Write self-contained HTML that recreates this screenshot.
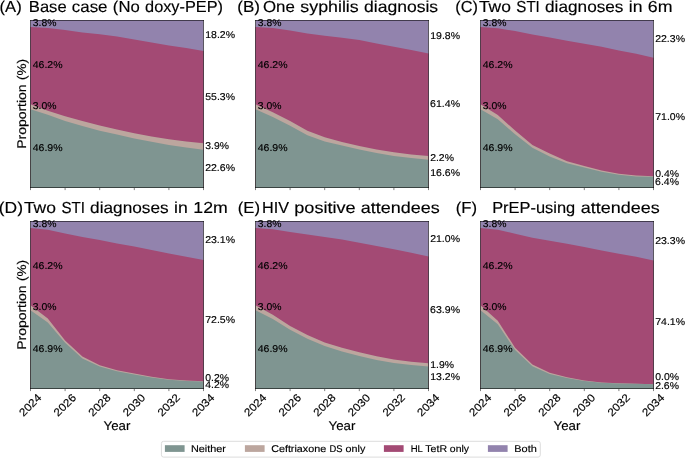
<!DOCTYPE html><html><head><meta charset="utf-8"><style>html,body{margin:0;padding:0;background:#fff;overflow:hidden}svg{display:block;filter:blur(0.3px)}</style></head><body><svg width="685" height="458" viewBox="0 0 685 458" font-family="Liberation Sans, sans-serif" text-rendering="geometricPrecision">
<rect width="685" height="458" fill="#fff"/>
<rect fill="#9283ad" x="30.50" y="20.00" width="173.00" height="167.90"/>
<polygon fill="#a34a74" points="30.50,27.01 47.80,28.00 65.10,30.00 82.40,32.40 99.70,34.35 117.00,36.40 134.30,39.40 151.60,42.50 168.90,45.50 186.20,48.10 203.50,50.89 203.50,187.90 30.50,187.90"/>
<polygon fill="#bca69e" points="30.50,104.17 47.80,110.70 65.10,116.30 82.40,120.90 99.70,125.60 117.00,129.40 134.30,133.30 151.60,136.50 168.90,139.30 186.20,141.50 203.50,143.25 203.50,187.90 30.50,187.90"/>
<polygon fill="#7f9591" points="30.50,109.18 47.80,114.80 65.10,121.00 82.40,126.10 99.70,130.80 117.00,134.60 134.30,138.40 151.60,141.70 168.90,144.90 186.20,147.40 203.50,149.76 203.50,187.90 30.50,187.90"/>
<rect fill="#9283ad" x="255.50" y="20.00" width="173.00" height="167.90"/>
<polygon fill="#a34a74" points="255.50,27.01 272.80,27.90 290.10,30.50 307.40,33.50 324.70,35.70 342.00,37.80 359.30,40.10 376.60,43.40 393.90,46.70 411.20,50.00 428.50,53.57 428.50,187.90 255.50,187.90"/>
<polygon fill="#bca69e" points="255.50,104.17 272.80,112.20 290.10,120.90 307.40,130.80 324.70,137.30 342.00,141.90 359.30,146.00 376.60,149.50 393.90,152.30 411.20,154.40 428.50,156.10 428.50,187.90 255.50,187.90"/>
<polygon fill="#7f9591" points="255.50,109.18 272.80,116.90 290.10,125.70 307.40,135.20 324.70,141.40 342.00,145.50 359.30,149.50 376.60,153.00 393.90,155.90 411.20,158.00 428.50,159.78 428.50,187.90 255.50,187.90"/>
<rect fill="#9283ad" x="480.50" y="20.00" width="173.00" height="167.90"/>
<polygon fill="#a34a74" points="480.50,27.01 497.80,28.20 515.10,31.10 532.40,34.40 549.70,37.40 567.00,40.70 584.30,43.80 601.60,46.80 618.90,50.40 636.20,53.70 653.50,57.74 653.50,187.90 480.50,187.90"/>
<polygon fill="#bca69e" points="480.50,104.17 497.80,115.10 515.10,130.60 532.40,145.00 549.70,153.40 567.00,161.30 584.30,166.00 601.60,170.50 618.90,173.80 636.20,175.60 653.50,176.14 653.50,187.90 480.50,187.90"/>
<polygon fill="#7f9591" points="480.50,109.18 497.80,119.20 515.10,134.20 532.40,147.80 549.70,156.40 567.00,163.30 584.30,167.60 601.60,171.80 618.90,174.80 636.20,176.40 653.50,176.81 653.50,187.90 480.50,187.90"/>
<rect fill="#9283ad" x="30.50" y="221.00" width="173.00" height="167.90"/>
<polygon fill="#a34a74" points="30.50,228.01 47.80,229.80 65.10,233.50 82.40,237.10 99.70,240.00 117.00,243.40 134.30,246.60 151.60,250.10 168.90,253.40 186.20,256.70 203.50,260.08 203.50,388.90 30.50,388.90"/>
<polygon fill="#bca69e" points="30.50,305.17 47.80,318.50 65.10,340.60 82.40,356.60 99.70,365.20 117.00,370.20 134.30,373.60 151.60,376.80 168.90,379.20 186.20,380.60 203.50,381.15 203.50,388.90 30.50,388.90"/>
<polygon fill="#7f9591" points="30.50,310.18 47.80,322.50 65.10,342.80 82.40,358.40 99.70,366.50 117.00,371.20 134.30,374.40 151.60,377.40 168.90,379.70 186.20,381.00 203.50,381.49 203.50,388.90 30.50,388.90"/>
<rect fill="#9283ad" x="255.50" y="221.00" width="173.00" height="167.90"/>
<polygon fill="#a34a74" points="255.50,228.01 272.80,229.20 290.10,231.90 307.40,234.50 324.70,237.10 342.00,239.60 359.30,242.70 376.60,246.10 393.90,249.30 411.20,252.70 428.50,256.57 428.50,388.90 255.50,388.90"/>
<polygon fill="#bca69e" points="255.50,305.17 272.80,314.80 290.10,326.10 307.40,335.00 324.70,342.50 342.00,347.70 359.30,352.30 376.60,356.30 393.90,359.50 411.20,361.80 428.50,363.28 428.50,388.90 255.50,388.90"/>
<polygon fill="#7f9591" points="255.50,310.18 272.80,319.00 290.10,329.80 307.40,338.80 324.70,346.00 342.00,351.60 359.30,356.00 376.60,360.00 393.90,362.90 411.20,364.90 428.50,366.46 428.50,388.90 255.50,388.90"/>
<rect fill="#9283ad" x="480.50" y="221.00" width="173.00" height="167.90"/>
<polygon fill="#a34a74" points="480.50,228.01 497.80,229.80 515.10,233.70 532.40,237.70 549.70,240.70 567.00,243.80 584.30,247.10 601.60,250.50 618.90,253.70 636.20,256.70 653.50,260.41 653.50,388.90 480.50,388.90"/>
<polygon fill="#bca69e" points="480.50,305.17 497.80,320.70 515.10,347.80 532.40,364.40 549.70,372.80 567.00,377.20 584.30,380.50 601.60,382.40 618.90,383.20 636.20,383.70 653.50,384.16 653.50,388.90 480.50,388.90"/>
<polygon fill="#7f9591" points="480.50,310.18 497.80,324.20 515.10,350.10 532.40,366.20 549.70,374.00 567.00,378.00 584.30,381.00 601.60,382.70 618.90,383.40 636.20,383.80 653.50,384.16 653.50,388.90 480.50,388.90"/>
<path d="M30.50,20.00V188.00M203.50,20.00V188.00M30.00,20.50H204.00M30.00,187.50H204.00" stroke="#000" stroke-opacity="0.55" stroke-width="1" fill="none"/>
<line x1="30.50" y1="188.00" x2="30.50" y2="190.10" stroke="#000" stroke-opacity="0.5" stroke-width="1"/>
<line x1="65.10" y1="188.00" x2="65.10" y2="190.10" stroke="#000" stroke-opacity="0.5" stroke-width="1"/>
<line x1="99.70" y1="188.00" x2="99.70" y2="190.10" stroke="#000" stroke-opacity="0.5" stroke-width="1"/>
<line x1="134.30" y1="188.00" x2="134.30" y2="190.10" stroke="#000" stroke-opacity="0.5" stroke-width="1"/>
<line x1="168.90" y1="188.00" x2="168.90" y2="190.10" stroke="#000" stroke-opacity="0.5" stroke-width="1"/>
<line x1="203.50" y1="188.00" x2="203.50" y2="190.10" stroke="#000" stroke-opacity="0.5" stroke-width="1"/>
<path d="M255.50,20.00V188.00M428.50,20.00V188.00M255.00,20.50H429.00M255.00,187.50H429.00" stroke="#000" stroke-opacity="0.55" stroke-width="1" fill="none"/>
<line x1="255.50" y1="188.00" x2="255.50" y2="190.10" stroke="#000" stroke-opacity="0.5" stroke-width="1"/>
<line x1="290.10" y1="188.00" x2="290.10" y2="190.10" stroke="#000" stroke-opacity="0.5" stroke-width="1"/>
<line x1="324.70" y1="188.00" x2="324.70" y2="190.10" stroke="#000" stroke-opacity="0.5" stroke-width="1"/>
<line x1="359.30" y1="188.00" x2="359.30" y2="190.10" stroke="#000" stroke-opacity="0.5" stroke-width="1"/>
<line x1="393.90" y1="188.00" x2="393.90" y2="190.10" stroke="#000" stroke-opacity="0.5" stroke-width="1"/>
<line x1="428.50" y1="188.00" x2="428.50" y2="190.10" stroke="#000" stroke-opacity="0.5" stroke-width="1"/>
<path d="M480.50,20.00V188.00M653.50,20.00V188.00M480.00,20.50H654.00M480.00,187.50H654.00" stroke="#000" stroke-opacity="0.55" stroke-width="1" fill="none"/>
<line x1="480.50" y1="188.00" x2="480.50" y2="190.10" stroke="#000" stroke-opacity="0.5" stroke-width="1"/>
<line x1="515.10" y1="188.00" x2="515.10" y2="190.10" stroke="#000" stroke-opacity="0.5" stroke-width="1"/>
<line x1="549.70" y1="188.00" x2="549.70" y2="190.10" stroke="#000" stroke-opacity="0.5" stroke-width="1"/>
<line x1="584.30" y1="188.00" x2="584.30" y2="190.10" stroke="#000" stroke-opacity="0.5" stroke-width="1"/>
<line x1="618.90" y1="188.00" x2="618.90" y2="190.10" stroke="#000" stroke-opacity="0.5" stroke-width="1"/>
<line x1="653.50" y1="188.00" x2="653.50" y2="190.10" stroke="#000" stroke-opacity="0.5" stroke-width="1"/>
<path d="M30.50,221.00V389.00M203.50,221.00V389.00M30.00,221.50H204.00M30.00,388.50H204.00" stroke="#000" stroke-opacity="0.55" stroke-width="1" fill="none"/>
<line x1="30.50" y1="389.00" x2="30.50" y2="391.10" stroke="#000" stroke-opacity="0.5" stroke-width="1"/>
<line x1="65.10" y1="389.00" x2="65.10" y2="391.10" stroke="#000" stroke-opacity="0.5" stroke-width="1"/>
<line x1="99.70" y1="389.00" x2="99.70" y2="391.10" stroke="#000" stroke-opacity="0.5" stroke-width="1"/>
<line x1="134.30" y1="389.00" x2="134.30" y2="391.10" stroke="#000" stroke-opacity="0.5" stroke-width="1"/>
<line x1="168.90" y1="389.00" x2="168.90" y2="391.10" stroke="#000" stroke-opacity="0.5" stroke-width="1"/>
<line x1="203.50" y1="389.00" x2="203.50" y2="391.10" stroke="#000" stroke-opacity="0.5" stroke-width="1"/>
<path d="M255.50,221.00V389.00M428.50,221.00V389.00M255.00,221.50H429.00M255.00,388.50H429.00" stroke="#000" stroke-opacity="0.55" stroke-width="1" fill="none"/>
<line x1="255.50" y1="389.00" x2="255.50" y2="391.10" stroke="#000" stroke-opacity="0.5" stroke-width="1"/>
<line x1="290.10" y1="389.00" x2="290.10" y2="391.10" stroke="#000" stroke-opacity="0.5" stroke-width="1"/>
<line x1="324.70" y1="389.00" x2="324.70" y2="391.10" stroke="#000" stroke-opacity="0.5" stroke-width="1"/>
<line x1="359.30" y1="389.00" x2="359.30" y2="391.10" stroke="#000" stroke-opacity="0.5" stroke-width="1"/>
<line x1="393.90" y1="389.00" x2="393.90" y2="391.10" stroke="#000" stroke-opacity="0.5" stroke-width="1"/>
<line x1="428.50" y1="389.00" x2="428.50" y2="391.10" stroke="#000" stroke-opacity="0.5" stroke-width="1"/>
<path d="M480.50,221.00V389.00M653.50,221.00V389.00M480.00,221.50H654.00M480.00,388.50H654.00" stroke="#000" stroke-opacity="0.55" stroke-width="1" fill="none"/>
<line x1="480.50" y1="389.00" x2="480.50" y2="391.10" stroke="#000" stroke-opacity="0.5" stroke-width="1"/>
<line x1="515.10" y1="389.00" x2="515.10" y2="391.10" stroke="#000" stroke-opacity="0.5" stroke-width="1"/>
<line x1="549.70" y1="389.00" x2="549.70" y2="391.10" stroke="#000" stroke-opacity="0.5" stroke-width="1"/>
<line x1="584.30" y1="389.00" x2="584.30" y2="391.10" stroke="#000" stroke-opacity="0.5" stroke-width="1"/>
<line x1="618.90" y1="389.00" x2="618.90" y2="391.10" stroke="#000" stroke-opacity="0.5" stroke-width="1"/>
<line x1="653.50" y1="389.00" x2="653.50" y2="391.10" stroke="#000" stroke-opacity="0.5" stroke-width="1"/>
<g fill="#000" stroke="#000" stroke-width="0.15">
<text x="32.83" y="25.81" font-size="9.9" textLength="23.65" lengthAdjust="spacingAndGlyphs">3.8%</text>
<text x="32.72" y="67.71" font-size="9.9" textLength="29.81" lengthAdjust="spacingAndGlyphs">46.2%</text>
<text x="32.83" y="109.11" font-size="9.9" textLength="23.65" lengthAdjust="spacingAndGlyphs">3.0%</text>
<text x="32.72" y="150.91" font-size="9.9" textLength="29.81" lengthAdjust="spacingAndGlyphs">46.9%</text>
<text x="205.24" y="37.81" font-size="9.9" textLength="29.79" lengthAdjust="spacingAndGlyphs">18.2%</text>
<text x="205.31" y="99.81" font-size="9.9" textLength="29.72" lengthAdjust="spacingAndGlyphs">55.3%</text>
<text x="205.33" y="149.21" font-size="9.9" textLength="23.65" lengthAdjust="spacingAndGlyphs">3.9%</text>
<text x="205.17" y="171.41" font-size="9.9" textLength="29.86" lengthAdjust="spacingAndGlyphs">22.6%</text>
<text x="-0.43" y="11.90" font-size="15.9" textLength="22.16" lengthAdjust="spacingAndGlyphs">(A)</text>
<text x="28.84" y="11.90" font-size="15.9" textLength="37.79" lengthAdjust="spacingAndGlyphs">Base</text><text x="71.83" y="11.90" font-size="15.9" textLength="35.70" lengthAdjust="spacingAndGlyphs">case</text><text x="112.89" y="11.90" font-size="15.9" textLength="26.89" lengthAdjust="spacingAndGlyphs">(No</text><text x="145.08" y="11.90" font-size="15.9" textLength="77.93" lengthAdjust="spacingAndGlyphs">doxy-PEP)</text>
<g transform="translate(25.9,103.75) rotate(-90) translate(-43.95,0)"><text x="-1.15" y="0.00" font-size="12.6" textLength="64.48" lengthAdjust="spacingAndGlyphs">Proportion</text><text x="67.66" y="0.00" font-size="12.6" textLength="21.08" lengthAdjust="spacingAndGlyphs">(%)</text></g>
<text x="257.83" y="25.81" font-size="9.9" textLength="23.65" lengthAdjust="spacingAndGlyphs">3.8%</text>
<text x="257.72" y="67.71" font-size="9.9" textLength="29.81" lengthAdjust="spacingAndGlyphs">46.2%</text>
<text x="257.83" y="109.11" font-size="9.9" textLength="23.65" lengthAdjust="spacingAndGlyphs">3.0%</text>
<text x="257.72" y="150.91" font-size="9.9" textLength="29.81" lengthAdjust="spacingAndGlyphs">46.9%</text>
<text x="430.24" y="39.11" font-size="9.9" textLength="29.79" lengthAdjust="spacingAndGlyphs">19.8%</text>
<text x="430.13" y="107.21" font-size="9.9" textLength="29.90" lengthAdjust="spacingAndGlyphs">61.4%</text>
<text x="430.17" y="160.71" font-size="9.9" textLength="23.81" lengthAdjust="spacingAndGlyphs">2.2%</text>
<text x="430.24" y="176.11" font-size="9.9" textLength="29.79" lengthAdjust="spacingAndGlyphs">16.6%</text>
<text x="237.34" y="11.90" font-size="15.9" textLength="22.71" lengthAdjust="spacingAndGlyphs">(B)</text>
<text x="263.00" y="11.90" font-size="15.9" textLength="31.90" lengthAdjust="spacingAndGlyphs">One</text><text x="300.35" y="11.90" font-size="15.9" textLength="58.36" lengthAdjust="spacingAndGlyphs">syphilis</text><text x="363.97" y="11.90" font-size="15.9" textLength="74.16" lengthAdjust="spacingAndGlyphs">diagnosis</text>
<text x="482.83" y="25.81" font-size="9.9" textLength="23.65" lengthAdjust="spacingAndGlyphs">3.8%</text>
<text x="482.72" y="67.71" font-size="9.9" textLength="29.81" lengthAdjust="spacingAndGlyphs">46.2%</text>
<text x="482.83" y="109.11" font-size="9.9" textLength="23.65" lengthAdjust="spacingAndGlyphs">3.0%</text>
<text x="482.72" y="150.91" font-size="9.9" textLength="29.81" lengthAdjust="spacingAndGlyphs">46.9%</text>
<text x="655.17" y="41.83" font-size="9.9" textLength="29.86" lengthAdjust="spacingAndGlyphs">22.3%</text>
<text x="655.24" y="119.65" font-size="9.9" textLength="29.79" lengthAdjust="spacingAndGlyphs">71.0%</text>
<text x="655.22" y="177.41" font-size="9.9" textLength="23.76" lengthAdjust="spacingAndGlyphs">0.4%</text>
<text x="655.13" y="184.61" font-size="9.9" textLength="23.85" lengthAdjust="spacingAndGlyphs">6.4%</text>
<text x="455.29" y="11.90" font-size="15.9" textLength="22.62" lengthAdjust="spacingAndGlyphs">(C)</text>
<text x="478.92" y="11.90" font-size="15.9" textLength="32.01" lengthAdjust="spacingAndGlyphs">Two</text><text x="516.35" y="11.90" font-size="15.9" textLength="23.48" lengthAdjust="spacingAndGlyphs">STI</text><text x="545.04" y="11.90" font-size="15.9" textLength="78.45" lengthAdjust="spacingAndGlyphs">diagnoses</text><text x="628.85" y="11.90" font-size="15.9" textLength="13.71" lengthAdjust="spacingAndGlyphs">in</text><text x="647.87" y="11.90" font-size="15.9" textLength="24.71" lengthAdjust="spacingAndGlyphs">6m</text>
<text x="32.83" y="226.81" font-size="9.9" textLength="23.65" lengthAdjust="spacingAndGlyphs">3.8%</text>
<text x="32.72" y="268.71" font-size="9.9" textLength="29.81" lengthAdjust="spacingAndGlyphs">46.2%</text>
<text x="32.83" y="310.11" font-size="9.9" textLength="23.65" lengthAdjust="spacingAndGlyphs">3.0%</text>
<text x="32.72" y="351.91" font-size="9.9" textLength="29.81" lengthAdjust="spacingAndGlyphs">46.9%</text>
<text x="205.17" y="243.49" font-size="9.9" textLength="29.86" lengthAdjust="spacingAndGlyphs">23.1%</text>
<text x="205.24" y="323.32" font-size="9.9" textLength="29.79" lengthAdjust="spacingAndGlyphs">72.5%</text>
<text x="205.22" y="380.71" font-size="9.9" textLength="23.76" lengthAdjust="spacingAndGlyphs">0.2%</text>
<text x="205.22" y="387.66" font-size="9.9" textLength="23.76" lengthAdjust="spacingAndGlyphs">4.2%</text>
<text x="-1.28" y="213.30" font-size="15.9" textLength="24.27" lengthAdjust="spacingAndGlyphs">(D)</text>
<text x="23.92" y="213.30" font-size="15.9" textLength="32.06" lengthAdjust="spacingAndGlyphs">Two</text><text x="61.41" y="213.30" font-size="15.9" textLength="23.51" lengthAdjust="spacingAndGlyphs">STI</text><text x="90.14" y="213.30" font-size="15.9" textLength="78.57" lengthAdjust="spacingAndGlyphs">diagnoses</text><text x="174.08" y="213.30" font-size="15.9" textLength="13.73" lengthAdjust="spacingAndGlyphs">in</text><text x="193.30" y="213.30" font-size="15.9" textLength="34.47" lengthAdjust="spacingAndGlyphs">12m</text>
<g transform="translate(25.9,304.75) rotate(-90) translate(-43.95,0)"><text x="-1.15" y="0.00" font-size="12.6" textLength="64.48" lengthAdjust="spacingAndGlyphs">Proportion</text><text x="67.66" y="0.00" font-size="12.6" textLength="21.08" lengthAdjust="spacingAndGlyphs">(%)</text></g>
<text x="103.62" y="429.70" font-size="12.8" textLength="26.79" lengthAdjust="spacingAndGlyphs">Year</text>
<g transform="translate(30.20,404.9) rotate(-45) translate(-12.7,3.85)"><text x="-0.60" y="0.00" font-size="10.9" textLength="26.34" lengthAdjust="spacingAndGlyphs">2024</text></g>
<g transform="translate(64.80,404.9) rotate(-45) translate(-12.7,3.85)"><text x="-0.60" y="0.00" font-size="10.9" textLength="26.52" lengthAdjust="spacingAndGlyphs">2026</text></g>
<g transform="translate(99.40,404.9) rotate(-45) translate(-12.7,3.85)"><text x="-0.60" y="0.00" font-size="10.9" textLength="26.52" lengthAdjust="spacingAndGlyphs">2028</text></g>
<g transform="translate(134.00,404.9) rotate(-45) translate(-12.7,3.85)"><text x="-0.60" y="0.00" font-size="10.9" textLength="26.46" lengthAdjust="spacingAndGlyphs">2030</text></g>
<g transform="translate(168.60,404.9) rotate(-45) translate(-12.7,3.85)"><text x="-0.60" y="0.00" font-size="10.9" textLength="26.60" lengthAdjust="spacingAndGlyphs">2032</text></g>
<g transform="translate(203.20,404.9) rotate(-45) translate(-12.7,3.85)"><text x="-0.60" y="0.00" font-size="10.9" textLength="26.34" lengthAdjust="spacingAndGlyphs">2034</text></g>
<text x="257.83" y="226.81" font-size="9.9" textLength="23.65" lengthAdjust="spacingAndGlyphs">3.8%</text>
<text x="257.72" y="268.71" font-size="9.9" textLength="29.81" lengthAdjust="spacingAndGlyphs">46.2%</text>
<text x="257.83" y="310.11" font-size="9.9" textLength="23.65" lengthAdjust="spacingAndGlyphs">3.0%</text>
<text x="257.72" y="351.91" font-size="9.9" textLength="29.81" lengthAdjust="spacingAndGlyphs">46.9%</text>
<text x="430.17" y="241.74" font-size="9.9" textLength="29.86" lengthAdjust="spacingAndGlyphs">21.0%</text>
<text x="430.13" y="312.63" font-size="9.9" textLength="29.90" lengthAdjust="spacingAndGlyphs">63.9%</text>
<text x="430.25" y="367.71" font-size="9.9" textLength="23.73" lengthAdjust="spacingAndGlyphs">1.9%</text>
<text x="430.24" y="380.31" font-size="9.9" textLength="29.79" lengthAdjust="spacingAndGlyphs">13.2%</text>
<text x="237.76" y="213.30" font-size="15.9" textLength="22.27" lengthAdjust="spacingAndGlyphs">(E)</text>
<text x="261.97" y="213.30" font-size="15.9" textLength="26.96" lengthAdjust="spacingAndGlyphs">HIV</text><text x="294.25" y="213.30" font-size="15.9" textLength="61.41" lengthAdjust="spacingAndGlyphs">positive</text><text x="360.88" y="213.30" font-size="15.9" textLength="78.87" lengthAdjust="spacingAndGlyphs">attendees</text>
<text x="328.62" y="429.70" font-size="12.8" textLength="26.79" lengthAdjust="spacingAndGlyphs">Year</text>
<g transform="translate(255.20,404.9) rotate(-45) translate(-12.7,3.85)"><text x="-0.60" y="0.00" font-size="10.9" textLength="26.34" lengthAdjust="spacingAndGlyphs">2024</text></g>
<g transform="translate(289.80,404.9) rotate(-45) translate(-12.7,3.85)"><text x="-0.60" y="0.00" font-size="10.9" textLength="26.52" lengthAdjust="spacingAndGlyphs">2026</text></g>
<g transform="translate(324.40,404.9) rotate(-45) translate(-12.7,3.85)"><text x="-0.60" y="0.00" font-size="10.9" textLength="26.52" lengthAdjust="spacingAndGlyphs">2028</text></g>
<g transform="translate(359.00,404.9) rotate(-45) translate(-12.7,3.85)"><text x="-0.60" y="0.00" font-size="10.9" textLength="26.46" lengthAdjust="spacingAndGlyphs">2030</text></g>
<g transform="translate(393.60,404.9) rotate(-45) translate(-12.7,3.85)"><text x="-0.60" y="0.00" font-size="10.9" textLength="26.60" lengthAdjust="spacingAndGlyphs">2032</text></g>
<g transform="translate(428.20,404.9) rotate(-45) translate(-12.7,3.85)"><text x="-0.60" y="0.00" font-size="10.9" textLength="26.34" lengthAdjust="spacingAndGlyphs">2034</text></g>
<text x="482.83" y="226.81" font-size="9.9" textLength="23.65" lengthAdjust="spacingAndGlyphs">3.8%</text>
<text x="482.72" y="268.71" font-size="9.9" textLength="29.81" lengthAdjust="spacingAndGlyphs">46.2%</text>
<text x="482.83" y="310.11" font-size="9.9" textLength="23.65" lengthAdjust="spacingAndGlyphs">3.0%</text>
<text x="482.72" y="351.91" font-size="9.9" textLength="29.81" lengthAdjust="spacingAndGlyphs">46.9%</text>
<text x="655.17" y="243.66" font-size="9.9" textLength="29.86" lengthAdjust="spacingAndGlyphs">23.3%</text>
<text x="655.24" y="324.99" font-size="9.9" textLength="29.79" lengthAdjust="spacingAndGlyphs">74.1%</text>
<text x="655.22" y="380.31" font-size="9.9" textLength="23.76" lengthAdjust="spacingAndGlyphs">0.0%</text>
<text x="655.17" y="388.91" font-size="9.9" textLength="23.81" lengthAdjust="spacingAndGlyphs">2.6%</text>
<text x="455.77" y="213.30" font-size="15.9" textLength="21.27" lengthAdjust="spacingAndGlyphs">(F)</text>
<text x="492.15" y="213.30" font-size="15.9" textLength="83.03" lengthAdjust="spacingAndGlyphs">PrEP-using</text><text x="580.74" y="213.30" font-size="15.9" textLength="78.91" lengthAdjust="spacingAndGlyphs">attendees</text>
<text x="553.62" y="429.70" font-size="12.8" textLength="26.79" lengthAdjust="spacingAndGlyphs">Year</text>
<g transform="translate(480.20,404.9) rotate(-45) translate(-12.7,3.85)"><text x="-0.60" y="0.00" font-size="10.9" textLength="26.34" lengthAdjust="spacingAndGlyphs">2024</text></g>
<g transform="translate(514.80,404.9) rotate(-45) translate(-12.7,3.85)"><text x="-0.60" y="0.00" font-size="10.9" textLength="26.52" lengthAdjust="spacingAndGlyphs">2026</text></g>
<g transform="translate(549.40,404.9) rotate(-45) translate(-12.7,3.85)"><text x="-0.60" y="0.00" font-size="10.9" textLength="26.52" lengthAdjust="spacingAndGlyphs">2028</text></g>
<g transform="translate(584.00,404.9) rotate(-45) translate(-12.7,3.85)"><text x="-0.60" y="0.00" font-size="10.9" textLength="26.46" lengthAdjust="spacingAndGlyphs">2030</text></g>
<g transform="translate(618.60,404.9) rotate(-45) translate(-12.7,3.85)"><text x="-0.60" y="0.00" font-size="10.9" textLength="26.60" lengthAdjust="spacingAndGlyphs">2032</text></g>
<g transform="translate(653.20,404.9) rotate(-45) translate(-12.7,3.85)"><text x="-0.60" y="0.00" font-size="10.9" textLength="26.34" lengthAdjust="spacingAndGlyphs">2034</text></g>
</g>
<rect x="161.4" y="441.3" width="378.9" height="15.8" rx="2.2" ry="2.2" fill="#fff" stroke="#dcdcdc" stroke-width="1"/>
<rect x="164.9" y="445.2" width="19.7" height="6.7" fill="#7f9591"/>
<rect x="244.9" y="445.2" width="19.7" height="6.7" fill="#bca69e"/>
<rect x="383.9" y="445.2" width="19.7" height="6.7" fill="#a34a74"/>
<rect x="487.9" y="445.2" width="19.7" height="6.7" fill="#9283ad"/>
<g fill="#000" stroke="#000" stroke-width="0.15">
<text x="190.91" y="451.90" font-size="9.8" textLength="34.97" lengthAdjust="spacingAndGlyphs">Neither</text>
<text x="271.15" y="451.90" font-size="9.8" textLength="55.04" lengthAdjust="spacingAndGlyphs">Ceftriaxone</text><text x="329.39" y="451.90" font-size="9.8" textLength="13.05" lengthAdjust="spacingAndGlyphs">DS</text><text x="345.62" y="451.90" font-size="9.8" textLength="19.70" lengthAdjust="spacingAndGlyphs">only</text>
<text x="410.72" y="451.90" font-size="9.8" textLength="12.20" lengthAdjust="spacingAndGlyphs">HL</text><text x="425.32" y="451.90" font-size="9.8" textLength="21.75" lengthAdjust="spacingAndGlyphs">TetR</text><text x="449.87" y="451.90" font-size="9.8" textLength="19.15" lengthAdjust="spacingAndGlyphs">only</text>
<text x="514.30" y="451.90" font-size="9.8" textLength="22.51" lengthAdjust="spacingAndGlyphs">Both</text>
</g>
</svg></body></html>
